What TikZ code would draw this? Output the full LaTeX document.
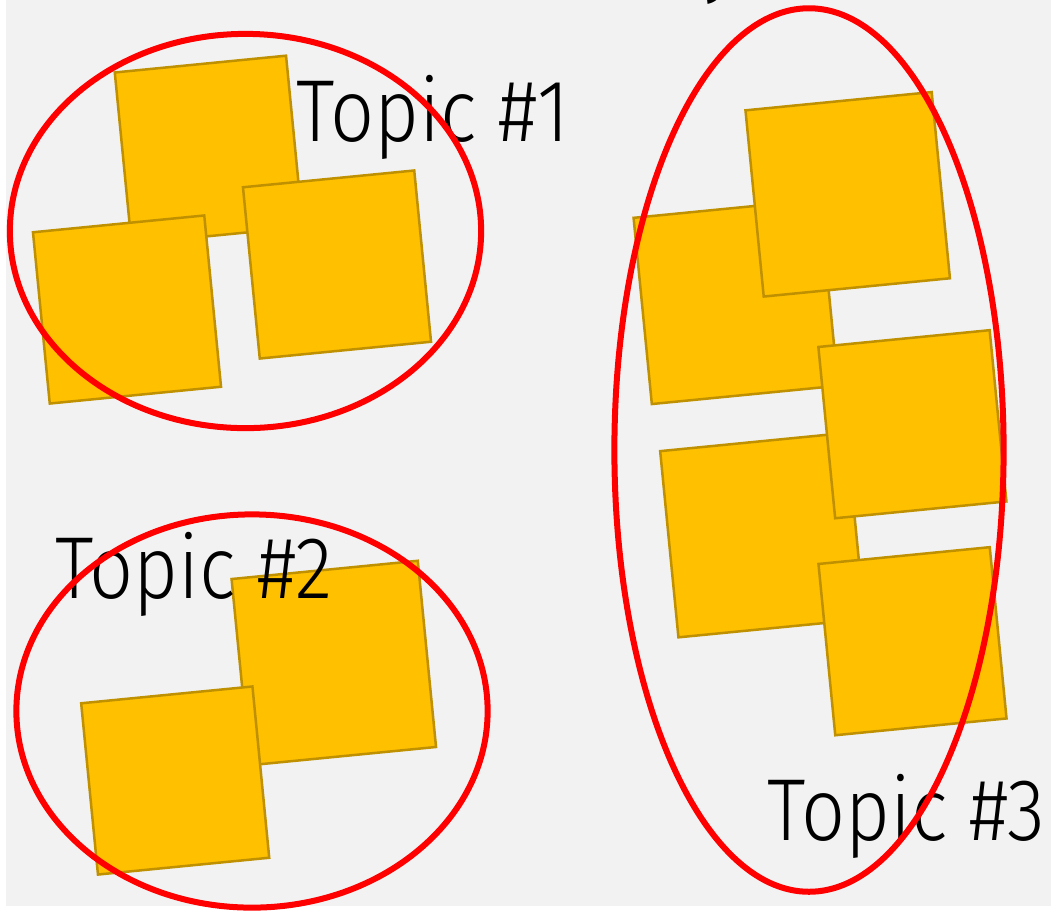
\documentclass[tikz,border=0pt]{standalone}
\usepackage{fontspec}
\setmainfont{Fira Sans Light}[FakeStretch=0.88]
\usetikzlibrary{positioning,shapes.geometric}
\definecolor{TpcBack}{RGB}{242,242,242}
\definecolor{TpcGold}{RGB}{255,192,0}
\definecolor{TpcRim}{RGB}{191,144,0}
\definecolor{TpcRed}{RGB}{255,0,0}
\tikzset{
  tpc/note/.style={
    rectangle,
    draw=TpcRim,
    line width=0.025cm,
    fill=TpcGold,
    rotate=5.6,
    inner sep=0pt
  },
  tpc/ring/.style={
    ellipse,
    draw=TpcRed,
    line width=0.06cm,
    inner sep=0pt
  },
  tpc/label/.style={font=\fontsize{25}{30}\selectfont, text=black, inner sep=0pt, anchor=base west}
}

\begin{document}
\begin{tikzpicture}[x=0.01cm,y=-0.01cm]
  \useasboundingbox (0,0) rectangle (1051,914);
  \clip (0,0) rectangle (1051,914);
  \fill[TpcBack] (6,0) rectangle (1051,906);
  % notes, back to front
  \foreach \n/\x/\y/\s in {a/208.8/149.7/1.72cm, b/127/309.5/1.72cm, c/337/264.5/1.72cm,
      d/333.8/663/1.87cm, e/175.2/780.5/1.72cm,
      f/735.8/301.8/1.87cm, g/847.7/194.3/1.87cm, i/762.4/535.1/1.87cm,
      h/912.4/424.2/1.72cm, j/912.5/641.2/1.72cm}{
    \node[tpc/note, minimum size=\s] (n\n) at (\x,\y) {};
  }
  \node[tpc/label] (ttl) at (703,-14) {y};
  \node[tpc/label] (lbl1) at (296,141.7) {Topic \#1};
  \node[tpc/label] (lbl2) at (55,598) {Topic \#2};
  \node[tpc/label] (lbl3) at (767,840) {Topic \#3};
  % topic rings
  \node[tpc/ring, minimum width=4.71cm, minimum height=3.94cm] (t1) at (245.5,231) {};
  \node[tpc/ring, minimum width=4.71cm, minimum height=3.93cm] (t2) at (252,711) {};
  \node[tpc/ring, minimum width=3.89cm, minimum height=8.83cm] (t3) at (809,450) {};
\end{tikzpicture}
\end{document}
